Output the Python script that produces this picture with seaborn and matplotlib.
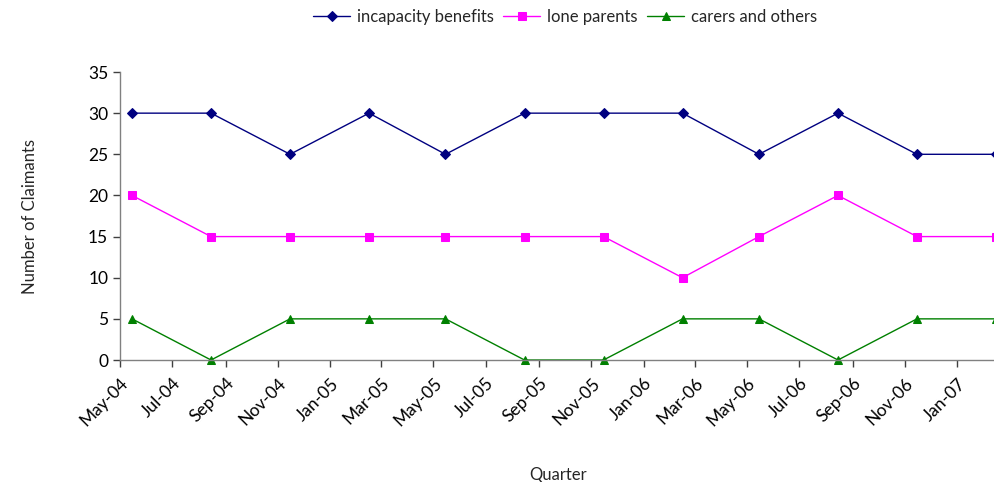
import pandas as pd
import matplotlib
matplotlib.use('Agg')
import matplotlib.pyplot as plt
import matplotlib.dates as mdates
import seaborn as sns

# quarterly observations
quarters = ['2004-05-15', '2004-08-15', '2004-11-15', '2005-02-15',
            '2005-05-15', '2005-08-15', '2005-11-15', '2006-02-15',
            '2006-05-15', '2006-08-15', '2006-11-15', '2007-02-15']
incapacity = [30, 30, 25, 30, 25, 30, 30, 30, 25, 30, 25, 25]
lone_parents = [20, 15, 15, 15, 15, 15, 15, 10, 15, 20, 15, 15]
carers = [5, 0, 5, 5, 5, 0, 0, 5, 5, 0, 5, 5]

dates = pd.to_datetime(quarters)

sns.set_style('white')
plt.rcParams['font.family'] = ['Lato', 'DejaVu Sans']

fig = plt.figure(figsize=(9.95, 4.82), dpi=100)
ax = fig.add_axes([0.1206, 0.2531, 0.8804, 0.5975])

series = [
    ('incapacity benefits', incapacity, '#000080', 'D', 5),
    ('lone parents', lone_parents, '#FF00FF', 's', 5.5),
    ('carers and others', carers, '#008000', '^', 6),
]
for name, vals, col, mk, ms in series:
    sns.lineplot(x=dates, y=vals, ax=ax, color=col, marker=mk, markersize=ms,
                 markeredgecolor=col, linewidth=1, label=name, clip_on=False)

ax.set_xlim(pd.Timestamp('2004-05-01'), pd.Timestamp('2007-02-15'))
ax.set_ylim(0, 35)
ax.set_yticks(range(0, 36, 5))
ax.xaxis.set_major_locator(mdates.MonthLocator(bymonth=[1, 3, 5, 7, 9, 11]))
ax.xaxis.set_major_formatter(mdates.DateFormatter('%b-%y'))
plt.setp(ax.get_xticklabels(), rotation=45, ha='right', rotation_mode='anchor')

for s in ['top', 'right']:
    ax.spines[s].set_visible(False)
for s in ['left', 'bottom']:
    ax.spines[s].set_color('#808080')
    ax.spines[s].set_linewidth(1)
ax.tick_params(axis='both', direction='out', length=5, width=1, color='#404040',
               labelsize=12.5, labelcolor='black', bottom=True, left=True)
ax.tick_params(axis='x', pad=6)

ax.set_xlabel('Quarter', fontsize=12)
ax.set_ylabel('Number of Claimants', fontsize=12)
ax.xaxis.set_label_coords(0.5, -0.40)
ax.yaxis.set_label_coords(-0.103, 0.5)
ax.xaxis.label.set_va('center')
ax.yaxis.label.set_va('center')

ax.legend(loc='center', bbox_to_anchor=(0.508, 1.19), ncol=3, frameon=False,
          fontsize=12, handlelength=2.2, columnspacing=0.6, handletextpad=0.4)

fig.savefig('out.png', dpi=100)
